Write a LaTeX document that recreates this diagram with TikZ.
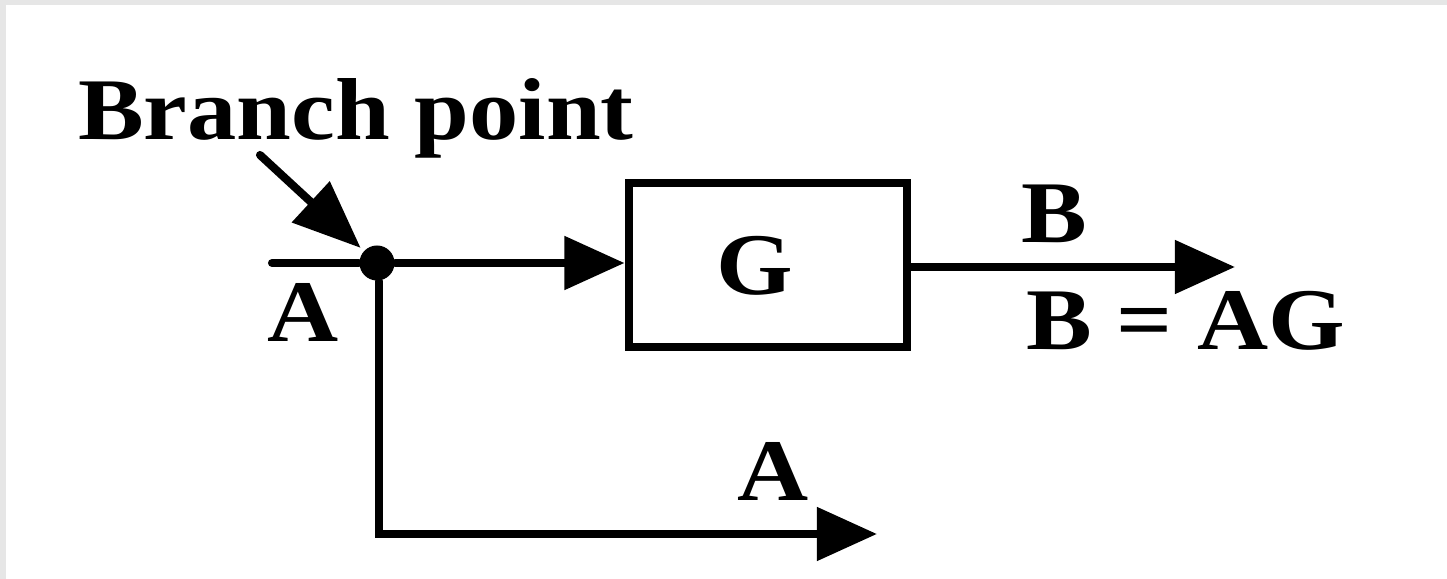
\documentclass[tikz,border=0pt]{standalone}
\usepackage{fontspec}
\setmainfont{Liberation Serif}[FakeStretch=1.12]
\usetikzlibrary{arrows.meta}
\definecolor{edgegray}{HTML}{E6E6E6}
\tikzset{
  lbl/.style={font=\bfseries\fontsize{25pt}{30pt}\selectfont, inner sep=0pt, anchor=base},
  wire/.style={line width=2.3pt, line cap=round},
  arr/.style={wire, -{Triangle[length=0.6cm, width=0.52cm]}},
  blockbox/.style={draw, line width=2.5pt, minimum width=2.78cm, minimum height=1.64cm, inner sep=0pt},
  junction/.style={circle, fill, minimum size=0.35cm, inner sep=0pt}
}
\begin{document}
\begin{tikzpicture}[x=0.01cm, y=-0.01cm]
  % page frame: faint grey strip along top and left edges
  \fill[edgegray] (0,0) rectangle (1447,579);
  \fill[white] (6,5) rectangle (1447,579);
  \useasboundingbox (0,0) rectangle (1447,579);

  % block and branch junction
  \node[blockbox] (box) at (768,265) {};
  \node[lbl] (g) at (755,295) {G};
  \node[junction] (dot) at (377,263) {};

  % free ends of the signal lines
  \coordinate (inL) at (272,263);
  \coordinate (outEnd) at (1235,267);
  \coordinate (corner) at (379,534);
  \coordinate (aEnd) at (877,534);
  \coordinate (bpStart) at (260,155);

  % signal lines
  \draw[wire] (inL) -- (dot);
  \draw[arr] (dot) -- (dot -| box.west);
  \draw[arr] (box.east |- outEnd) -- (outEnd);
  \draw[arr] (dot.south -| corner) -- (corner) -- (aEnd);
  \draw[line width=2.3pt, line cap=round, -{Triangle[length=0.68cm, width=0.54cm]}, shorten >=0.04cm] (bpStart) -- (dot);

  % labels
  \node[lbl] (bp) at (356,140) {Branch point};
  \node[lbl] (aIn) at (303,342) {A};
  \node[lbl] (bTop) at (1054,243) {B};
  \node[lbl] (bEq) at (1186,350) {B = AG};
  \node[lbl] (aLow) at (773,501) {A};
\end{tikzpicture}
\end{document}
